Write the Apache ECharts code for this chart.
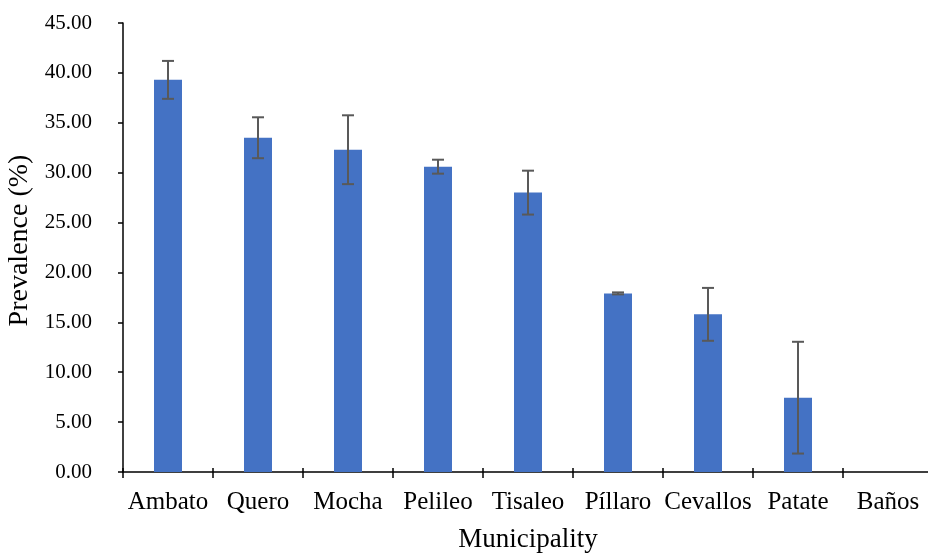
<!DOCTYPE html>
<html>
<head>
<meta charset="utf-8">
<script src="https://cdn.jsdelivr.net/npm/echarts@6/dist/echarts.min.js"></script>
<style>
  html, body { margin: 0; padding: 0; background: #fff; }
  #chart { width: 928px; height: 554px; }
</style>
</head>
<body>
<div id="chart"></div>
<script>
// Municipios y prevalencia (%)
const municipalities = ['Ambato', 'Quero', 'Mocha', 'Pelileo', 'Tisaleo', 'Píllaro', 'Cevallos', 'Patate', 'Baños'];
const prevalence = [39.3, 33.5, 32.3, 30.6, 28.0, 17.9, 15.8, 7.45, 0];
// Barras de error (+/-)
const errors = [1.9, 2.05, 3.45, 0.7, 2.2, 0.1, 2.65, 5.6, 0];

const fontFamily = '"Liberation Serif", "DejaVu Serif", serif';

const chart = echarts.init(document.getElementById('chart'));

// Datos para la serie personalizada de errores
const errorData = prevalence.map((v, i) => [i, v - errors[i], v + errors[i]]);

const option = {
    animation: false,
    grid: { left: 123, right: -5, top: 23, bottom: 82, outerBoundsMode: 'none', containLabel: false },
    xAxis: [
        {
            type: 'category',
            data: municipalities,
            name: 'Municipality',
            nameLocation: 'middle',
            nameGap: 54,
            nameTextStyle: { fontFamily, fontSize: 27, color: '#000' },
            axisLine: { lineStyle: { color: '#000', width: 1.5 } },
            axisTick: { show: true, length: 6, lineStyle: { color: '#000', width: 1.5 } },
            axisLabel: { fontFamily, fontSize: 25, color: '#000', margin: 18, interval: 0 }
        },
        {
            // marcas hacia dentro para que crucen el eje
            type: 'category',
            data: municipalities,
            position: 'bottom',
            axisLine: { show: false },
            axisTick: { show: true, inside: true, length: 4, lineStyle: { color: '#000', width: 1.5 } },
            axisLabel: { show: false }
        }
    ],
    yAxis: {
        type: 'value',
        min: 0,
        max: 45,
        interval: 5,
        name: 'Prevalence (%)',
        nameLocation: 'middle',
        nameGap: 82,
        nameTextStyle: { fontFamily, fontSize: 28, color: '#000', padding: [0, 0, 0, 14] },
        axisLine: { show: true, lineStyle: { color: '#000', width: 1.5 } },
        axisTick: { show: true, length: 5, lineStyle: { color: '#000', width: 1.5 } },
        splitLine: { show: false },
        axisLabel: {
            fontFamily, fontSize: 21, color: '#000', margin: 31,
            formatter: v => v.toFixed(2)
        }
    },
    series: [
        {
            type: 'bar',
            data: prevalence,
            barWidth: 28,
            itemStyle: { color: '#4472C4' }
        },
        {
            type: 'custom',
            data: errorData,
            z: 10,
            renderItem: (params, api) => {
                if (api.value(2) - api.value(1) <= 0) return null;
                const lo = api.coord([api.value(0), api.value(1)]);
                const hi = api.coord([api.value(0), api.value(2)]);
                const half = 6;
                const style = { stroke: '#595959', lineWidth: 2 };
                return {
                    type: 'group',
                    children: [
                        { type: 'line', shape: { x1: hi[0], y1: hi[1], x2: lo[0], y2: lo[1] }, style },
                        { type: 'line', shape: { x1: hi[0] - half, y1: hi[1], x2: hi[0] + half, y2: hi[1] }, style },
                        { type: 'line', shape: { x1: lo[0] - half, y1: lo[1], x2: lo[0] + half, y2: lo[1] }, style }
                    ]
                };
            }
        }
    ]
};

chart.setOption(option);
</script>
</body>
</html>
